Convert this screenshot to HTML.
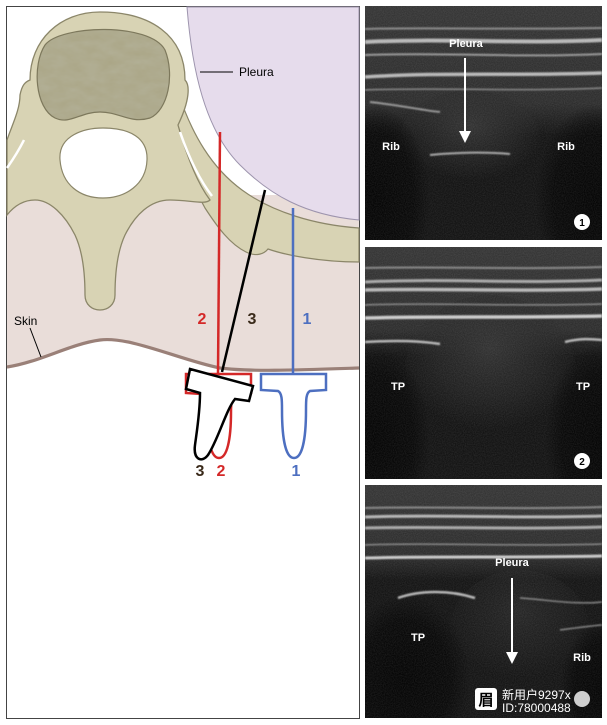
<!DOCTYPE html>
<html><head><meta charset="utf-8"><style>
html,body{margin:0;padding:0;background:#fff;width:607px;height:725px;overflow:hidden;}
svg{display:block;}
text{font-family:"Liberation Sans",Arial,sans-serif;}
</style></head><body>
<svg width="607" height="725" viewBox="0 0 607 725" xmlns="http://www.w3.org/2000/svg">
<defs>
<filter id="b1"><feGaussianBlur stdDeviation="0.8"/></filter>
<filter id="noise" x="0" y="0" width="1" height="1"><feTurbulence type="fractalNoise" baseFrequency="0.9" numOctaves="2" seed="3"/><feColorMatrix values="0 0 0 0 1  0 0 0 0 1  0 0 0 0 1  0 0 0 0.3 -0.08"/></filter>
<filter id="tex" x="0" y="0" width="1" height="1"><feTurbulence type="fractalNoise" baseFrequency="0.06 0.12" numOctaves="3" seed="5"/><feColorMatrix values="0 0 0 0 0.5  0 0 0 0 0.5  0 0 0 0 0.4  0 0 0 0.5 0"/></filter>
<linearGradient id="top" x1="0" y1="0" x2="0" y2="1">
<stop offset="0" stop-color="#363636"/><stop offset="0.75" stop-color="#2e2e2e"/><stop offset="1" stop-color="#2e2e2e" stop-opacity="0"/></linearGradient>
<radialGradient id="mid" cx="0.5" cy="0.35" r="0.55">
<stop offset="0" stop-color="#333"/><stop offset="0.6" stop-color="#2a2a2a" stop-opacity="0.6"/><stop offset="1" stop-color="#2a2a2a" stop-opacity="0"/></radialGradient>
<radialGradient id="shad" cx="0.5" cy="0.5" r="0.5">
<stop offset="0" stop-color="#050505"/><stop offset="0.7" stop-color="#080808" stop-opacity="0.9"/><stop offset="1" stop-color="#080808" stop-opacity="0"/></radialGradient>
<clipPath id="bodyclip"><path d="M45,45 C60,25 150,22 165,50 C175,75 168,110 150,118 C130,124 120,112 100,112 C80,112 70,125 55,118 C35,108 32,65 45,45Z"/></clipPath>
<clipPath id="p1"><rect x="365" y="6" width="237" height="234"/></clipPath>
<clipPath id="p2"><rect x="365" y="247" width="237" height="232"/></clipPath>
<clipPath id="p3"><rect x="365" y="485" width="237" height="233"/></clipPath>
</defs>
<rect width="607" height="725" fill="#fff"/>
<rect x="6.5" y="6.5" width="353" height="712" fill="#fff" stroke="#444" stroke-width="1"/>
<path d="M7,195 L359,195 L359,368 C300,370 250,372 220,368 C180,360 130,336 100,340 C70,344 40,362 7,367 Z" fill="#e9ddd9"/>
<path d="M187,7 C192,70 205,130 240,165 C270,195 305,215 359,220 L359,7 Z" fill="#e6dcec" stroke="#9d94ad" stroke-width="1"/>
<path d="M178,92 C192,135 212,168 242,190 C272,212 315,225 359,228 L359,262 C320,262 285,255 268,249 C264,254 256,257 246,252 C230,244 218,228 205,208 C195,190 185,165 176,140 Z" fill="#d8d3b4" stroke="#8b8669" stroke-width="1.2"/>
<path d="M30,80 C30,40 60,12 100,12 C150,12 185,35 185,80 C190,85 190,100 178,125 C185,150 195,180 210,200 C205,205 190,200 170,200 C150,200 135,215 125,235 C118,250 115,270 115,295 C115,315 85,315 85,295 C85,270 82,250 75,235 C65,215 50,200 35,200 C25,200 15,205 7,215 L7,140 C12,125 20,110 20,95 C22,85 25,82 30,80 Z" fill="#d8d3b4" stroke="#8b8669" stroke-width="1.3"/>
<path d="M180,132 C188,155 198,178 212,196" stroke="#fff" stroke-width="2.5" fill="none"/>
<path d="M7,168 C14,158 20,148 24,140" stroke="#fff" stroke-width="2.5" fill="none"/>
<path d="M45,45 C60,25 150,22 165,50 C175,75 168,110 150,118 C130,124 120,112 100,112 C80,112 70,125 55,118 C35,108 32,65 45,45Z" fill="#aaa585"/>
<rect x="30" y="20" width="150" height="110" filter="url(#tex)" clip-path="url(#bodyclip)"/>
<path d="M45,45 C60,25 150,22 165,50 C175,75 168,110 150,118 C130,124 120,112 100,112 C80,112 70,125 55,118 C35,108 32,65 45,45Z" fill="none" stroke="#7d785c" stroke-width="1.2"/>
<path d="M60,160 C58,135 85,128 103,128 C130,128 148,138 147,160 C146,185 125,198 103,198 C80,198 62,185 60,160Z" fill="#fff" stroke="#8b8669" stroke-width="1.2"/>
<path d="M7,367 C40,362 70,344 100,340 C130,336 180,360 220,368 C250,372 300,370 359,368" fill="none" stroke="#9a8078" stroke-width="3.2"/>
<line x1="200" y1="72" x2="233" y2="72" stroke="#000" stroke-width="1"/>
<text x="239" y="76" font-size="12" fill="#000">Pleura</text>
<text x="14" y="325" font-size="12" fill="#000">Skin</text>
<line x1="30" y1="328" x2="41" y2="357" stroke="#000" stroke-width="1"/>
<line x1="220" y1="132" x2="218" y2="373" stroke="#d42828" stroke-width="2.5"/>
<line x1="293" y1="208" x2="293" y2="373" stroke="#4d6fc0" stroke-width="2.5"/>
<line x1="265" y1="190" x2="222" y2="372" stroke="#000" stroke-width="2.5"/>
<path d="M261,374 L326,374 L326,390 L310,391 C306,393 306,400 306,410 C306,440 302,458 294,458 C286,458 282,440 282,410 C282,400 282,393 278,391 L261,390 Z" fill="#fff" stroke="#4d6fc0" stroke-width="2.5"/>
<path d="M186,374 L251,374 L251,393 L236,394 C232,396 231,402 231,412 C231,440 227,458 219,458 C211,458 207,440 207,412 C207,402 206,396 202,394 L186,393 Z" fill="#fff" stroke="#d42828" stroke-width="2.5"/>
<path d="M190,369 L253,386 L249,401 L235,399 C226,410 218,440 208,455 C202,463 193,460 195,445 C197,430 200,412 200,393 L186,389 Z" fill="#fff" stroke="#000" stroke-width="2.5"/>
<text x="202" y="324" font-size="16" font-weight="bold" fill="#d42828" text-anchor="middle">2</text>
<text x="252" y="324" font-size="16" font-weight="bold" fill="#3a2a1a" text-anchor="middle">3</text>
<text x="307" y="324" font-size="16" font-weight="bold" fill="#4d6fc0" text-anchor="middle">1</text>
<text x="200" y="476" font-size="16" font-weight="bold" fill="#3a2a1a" text-anchor="middle">3</text>
<text x="221" y="476" font-size="16" font-weight="bold" fill="#d42828" text-anchor="middle">2</text>
<text x="296" y="476" font-size="16" font-weight="bold" fill="#4d6fc0" text-anchor="middle">1</text>

<g clip-path="url(#p1)">
<rect x="365" y="6" width="237" height="234" fill="#141414"/>
<rect x="365" y="6" width="237" height="130" fill="url(#top)"/>
<ellipse cx="470" cy="140" rx="70" ry="50" fill="url(#mid)"/>
<ellipse cx="375" cy="200" rx="55" ry="95" fill="url(#shad)"/>
<ellipse cx="595" cy="200" rx="60" ry="95" fill="url(#shad)"/>
<g stroke="#b8b8b8" fill="none" filter="url(#b1)">
<path d="M365,29 C420,27 500,30 602,28" stroke-width="2" stroke="#8a8a8a"/>
<path d="M365,42 C440,38 520,44 602,40" stroke-width="4"/>
<path d="M365,55 C440,52 520,58 602,54" stroke-width="2" stroke="#999"/>
<path d="M365,77 C440,72 520,76 602,73" stroke-width="3.5"/>
<path d="M365,90 C430,87 520,92 602,88" stroke-width="1.5" stroke="#888"/>
<path d="M370,102 C400,105 420,110 440,112" stroke-width="2" stroke="#999"/>
<path d="M430,155 C460,152 490,152 510,154" stroke-width="2" stroke="#aaa"/>
</g>
<rect x="365" y="6" width="237" height="234" filter="url(#noise)" opacity="0.5"/>
</g>
<text x="466" y="47" font-size="11" font-weight="bold" fill="#fff" text-anchor="middle">Pleura</text>
<line x1="465" y1="58" x2="465" y2="132" stroke="#fff" stroke-width="2"/>
<path d="M459,131 L471,131 L465,143Z" fill="#fff"/>
<text x="391" y="150" font-size="11" font-weight="bold" fill="#fff" text-anchor="middle">Rib</text>
<text x="566" y="150" font-size="11" font-weight="bold" fill="#fff" text-anchor="middle">Rib</text>
<circle cx="582" cy="222" r="8" fill="#fff"/>
<text x="582" y="226" font-size="10" font-weight="bold" fill="#000" text-anchor="middle">1</text>

<g clip-path="url(#p2)">
<rect x="365" y="247" width="237" height="232" fill="#141414"/>
<rect x="365" y="247" width="237" height="110" fill="url(#top)"/>
<ellipse cx="490" cy="370" rx="85" ry="75" fill="url(#mid)"/>
<ellipse cx="375" cy="440" rx="55" ry="95" fill="url(#shad)"/>
<ellipse cx="600" cy="440" rx="55" ry="95" fill="url(#shad)"/>
<g stroke="#b8b8b8" fill="none" filter="url(#b1)">
<path d="M365,268 C440,266 520,270 602,267" stroke-width="2" stroke="#888"/>
<path d="M365,282 C440,278 520,284 602,280" stroke-width="3" stroke="#aaa"/>
<path d="M365,290 C440,288 520,292 602,289" stroke-width="3.5"/>
<path d="M365,305 C430,302 520,307 602,304" stroke-width="1.5" stroke="#888"/>
<path d="M365,318 C440,316 520,318 602,316" stroke-width="3.5" stroke="#ccc"/>
<path d="M365,342 C400,340 420,341 440,344" stroke-width="2.5"/>
<path d="M565,342 C580,338 592,339 602,340" stroke-width="2.5"/>
</g>
<rect x="365" y="247" width="237" height="232" filter="url(#noise)" opacity="0.5"/>
</g>
<text x="398" y="390" font-size="11" font-weight="bold" fill="#fff" text-anchor="middle">TP</text>
<text x="583" y="390" font-size="11" font-weight="bold" fill="#fff" text-anchor="middle">TP</text>
<circle cx="582" cy="461" r="8" fill="#fff"/>
<text x="582" y="465" font-size="10" font-weight="bold" fill="#000" text-anchor="middle">2</text>

<g clip-path="url(#p3)">
<rect x="365" y="485" width="237" height="233" fill="#151515"/>
<rect x="365" y="485" width="237" height="95" fill="url(#top)"/>
<ellipse cx="520" cy="630" rx="70" ry="60" fill="url(#mid)" opacity="0.6"/>
<ellipse cx="405" cy="680" rx="65" ry="85" fill="url(#shad)"/>
<ellipse cx="605" cy="690" rx="45" ry="70" fill="url(#shad)"/>
<g stroke="#b8b8b8" fill="none" filter="url(#b1)">
<path d="M365,508 C440,506 520,510 602,507" stroke-width="2" stroke="#888"/>
<path d="M365,517 C440,514 520,519 602,516" stroke-width="3"/>
<path d="M365,528 C440,526 520,530 602,527" stroke-width="3" stroke="#aaa"/>
<path d="M365,545 C430,542 520,547 602,544" stroke-width="1.5" stroke="#888"/>
<path d="M365,558 C440,556 520,558 602,556" stroke-width="3" stroke="#ccc"/>
<path d="M398,598 C420,590 450,590 475,598" stroke-width="2.5"/>
<path d="M520,598 C550,600 575,605 602,602" stroke-width="1.5" stroke="#888"/>
<path d="M560,630 C575,628 590,626 602,625" stroke-width="1.5" stroke="#888"/>
</g>
<rect x="365" y="485" width="237" height="233" filter="url(#noise)" opacity="0.5"/>
</g>
<text x="512" y="566" font-size="11" font-weight="bold" fill="#fff" text-anchor="middle">Pleura</text>
<line x1="512" y1="578" x2="512" y2="653" stroke="#fff" stroke-width="2"/>
<path d="M506,652 L518,652 L512,664Z" fill="#fff"/>
<text x="418" y="641" font-size="11" font-weight="bold" fill="#fff" text-anchor="middle">TP</text>
<text x="582" y="661" font-size="11" font-weight="bold" fill="#fff" text-anchor="middle">Rib</text>
<rect x="475" y="688" width="22" height="22" rx="3" fill="#fff"/>
<text x="486" y="705" font-size="15" font-weight="bold" fill="#000" text-anchor="middle" font-family="'Liberation Sans','Noto Sans CJK SC',sans-serif">眉</text>
<text x="502" y="699" font-size="12" fill="#fff" font-family="'Liberation Sans','Noto Sans CJK SC',sans-serif">新用户9297x</text>
<text x="502" y="712" font-size="12" fill="#fff">ID:78000488</text>
<circle cx="582" cy="699" r="8" fill="#fff" opacity="0.8"/>
</svg>
</body></html>
